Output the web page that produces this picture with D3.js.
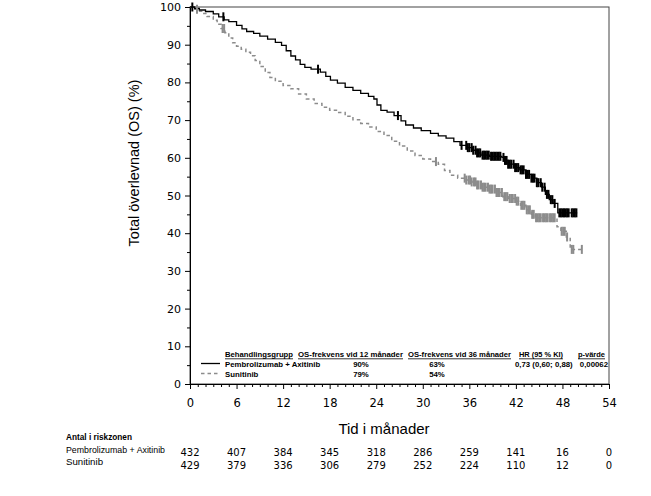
<!DOCTYPE html>
<html><head><meta charset="utf-8">
<script src="https://cdn.jsdelivr.net/npm/d3@7/dist/d3.min.js"></script>
<style>body{margin:0;background:#fff}</style>
</head><body>
<svg id="c" width="651" height="496"></svg>
<script>
// ---- data ----
const xTicks = [0, 6, 12, 18, 24, 30, 36, 42, 48, 54];
const yTicks = [0, 10, 20, 30, 40, 50, 60, 70, 80, 90, 100];
const seriesNames = ["Pembrolizumab + Axitinib", "Sunitinib"];
// step points [month, survival %]
const pembroSteps = [[0,100],[0.6,99.6],[1.2,99.2],[2,98.8],[3,98.2],[3.7,97.4],[4.4,96.6],[5,96.1],[6,95.1],[6.7,94.2],[7.3,93.5],[8.2,93],[9,92.3],[10,91.5],[11,90.6],[11.8,89.8],[12.4,88.4],[13,87],[13.6,86],[14.2,84.8],[14.8,84],[15.6,83.5],[16.8,82.7],[17.5,81.6],[18.1,80.6],[19,79.8],[20,78.7],[21,77.9],[22,77.1],[23,76.3],[23.7,75.6],[24.1,74],[24.6,72.6],[25.4,72.1],[26.3,71.2],[27.2,69.8],[27.8,68.7],[28.8,67.9],[29.8,67.2],[31,66.5],[32,65.8],[33,65.2],[34,64.3],[34.8,63.3],[35.7,62.7],[36.4,62],[37,61.3],[37.5,60.7],[38.6,60.4],[40.2,60.1],[40.6,59.3],[41,58.3],[41.8,57.4],[42.5,56.8],[43.3,55.6],[44,54.6],[44.7,53.4],[45.3,52.2],[45.8,50.3],[46.3,48.9],[46.8,47.9],[47.4,45.4],[49.9,45.4]];
const sunitSteps = [[0,100],[0.5,99.4],[1,98.9],[1.6,98.3],[2.2,97.5],[3,96.5],[3.5,95.4],[4,94.3],[4.5,93.2],[5,91.8],[5.5,90.5],[6,89.6],[6.6,88.8],[7.2,88],[7.8,87.1],[8.4,85.8],[9,84.2],[9.7,82.6],[10.3,81.3],[11,80.3],[12,79.2],[13,78.3],[14,76.9],[15,75.6],[16,74.4],[17,73.4],[18,72.6],[19,72],[20,71],[21,70.1],[22,69.1],[23,68.2],[24,67],[25,65.9],[26,64.4],[27,63.1],[28,61.8],[29,60.6],[30,59.7],[31,59],[32,58.3],[32.8,56.6],[33.5,55.4],[34.5,54.6],[35.5,54.1],[36.3,53.6],[37,52.8],[37.6,52.2],[38.5,51.7],[39.5,50.8],[40.3,49.7],[41,49.2],[42,48.5],[42.6,47.4],[43.3,46.2],[44,45],[44.5,44.1],[47.3,41.7],[47.8,40.5],[48.5,39],[49,35.7],[50.6,35.7]];
const pembroCensor = [0.3,4.3,16.5,26.8,35.0,35.6,35.8,36.0,36.3,36.5,36.8,37.0,37.2,37.4,37.7,37.9,38.1,38.3,38.5,38.8,39.0,39.2,39.4,39.6,39.8,40.0,40.4,40.6,40.8,41.0,41.2,41.4,41.7,41.9,42.1,42.3,42.6,42.8,43.0,43.3,43.5,43.7,44.0,44.2,44.4,44.7,44.9,45.2,45.4,45.7,46.0,46.2,46.5,46.7,47.0,47.6,47.8,48.0,48.2,48.4,48.6,48.8,49.2,49.4,49.6,49.8];
const sunitCensor = [0.9,4.2,4.4,31.7,35.4,35.6,35.9,36.1,36.3,36.6,36.8,37.0,37.2,37.5,37.7,37.9,38.1,38.4,38.6,38.8,39.0,39.3,39.5,39.7,39.9,40.2,40.5,40.7,40.9,41.2,41.4,41.6,41.9,42.1,42.3,42.7,42.9,43.1,43.4,43.6,43.8,44.1,44.3,44.6,44.8,45.0,45.2,45.5,45.7,45.9,46.1,46.4,46.6,46.8,47.0,47.9,48.1,48.3,48.6,49.2,49.4,50.5];
const legendHeaders = ["Behandlingsgrupp", "OS-frekvens vid 12 månader", "OS-frekvens vid 36 månader", "HR (95 % KI)", "p-värde"];
const os12 = ["90%", "79%"];
const os36 = ["63%", "54%"];
const hrText = ["0,73 (0,60; 0,88)", ""];
const pText = ["0,00062", ""];
const riskTitle = "Antal i riskzonen";
const riskPembro = [432, 407, 384, 345, 318, 286, 259, 141, 16, 0];
const riskSunit = [429, 379, 336, 306, 279, 252, 224, 110, 12, 0];

// ---- drawing ----
const svg = d3.select("#c");
const x = d3.scaleLinear().domain([0, 54]).range([190, 609]);
const y = d3.scaleLinear().domain([0, 100]).range([384, 7]);
const SANS = "'Liberation Sans', Arial, sans-serif";
const DV = "'DejaVu Sans', sans-serif";

// frame
svg.append("rect").attr("x", x(0)).attr("y", y(100)).attr("width", x(54) - x(0)).attr("height", y(0) - y(100))
  .attr("fill", "none").attr("stroke", "#444").attr("stroke-width", 1);

// y axis
const yAxis = svg.append("g").attr("transform", `translate(${x(0)},0)`)
  .call(d3.axisLeft(y).tickValues(yTicks).tickSize(5).tickPadding(4).tickFormat(d3.format("d")));
svg.append("g").attr("transform", `translate(${x(0)},0)`)
  .call(d3.axisLeft(y).tickValues(d3.range(5, 100, 10)).tickSize(3).tickFormat(""))
  .call(g => g.select(".domain").remove());
yAxis.selectAll("text").attr("font-family", DV).attr("font-size", 11).attr("fill", "#000");

// x axis
const xAxis = svg.append("g").attr("transform", `translate(0,${y(0)})`)
  .call(d3.axisBottom(x).tickValues(xTicks).tickSize(5).tickPadding(10).tickFormat(d3.format("d")));
svg.append("g").attr("transform", `translate(0,${y(0)})`)
  .call(d3.axisBottom(x).tickValues(d3.range(0, 55, 1).filter(d => d % 6 !== 0)).tickSize(3).tickFormat(""))
  .call(g => g.select(".domain").remove());
xAxis.selectAll("text").attr("font-family", DV).attr("font-size", 11.5).attr("fill", "#000");
svg.selectAll(".domain").attr("stroke", "#000");
svg.selectAll(".tick line").attr("stroke", "#000");

// axis titles
svg.append("text").attr("transform", `translate(139,163) rotate(-90)`).attr("text-anchor", "middle")
  .attr("font-family", SANS).attr("font-size", 14.5).text("Total överlevnad (OS) (%)");
svg.append("text").attr("x", 384).attr("y", 434).attr("text-anchor", "middle")
  .attr("font-family", SANS).attr("font-size", 15).text("Tid i månader");

// curves
const line = d3.line().x(d => x(d[0])).y(d => y(d[1])).curve(d3.curveStepAfter);
svg.append("path").datum(sunitSteps).attr("d", line).attr("fill", "none")
  .attr("stroke", "#8c8c8c").attr("stroke-width", 1.5).attr("stroke-dasharray", "3.5,3");
svg.append("path").datum(pembroSteps).attr("d", line).attr("fill", "none")
  .attr("stroke", "#000").attr("stroke-width", 1.3);

function survAt(steps, t) {
  let v = steps[0][1];
  for (const s of steps) { if (s[0] <= t) v = s[1]; else break; }
  return v;
}
function censors(times, steps, color, w) {
  svg.append("g").selectAll("line").data(times).join("line")
    .attr("x1", d => x(d)).attr("x2", d => x(d))
    .attr("y1", d => y(survAt(steps, d)) - 4.5).attr("y2", d => y(survAt(steps, d)) + 4.5)
    .attr("stroke", color).attr("stroke-width", w);
}
censors(sunitCensor, sunitSteps, "#8c8c8c", 2);
censors(pembroCensor, pembroSteps, "#000", 2);

// legend
const lg = svg.append("g").attr("font-family", SANS).attr("font-weight", "bold").attr("font-size", 7.8);
const hdrX = [225, 298, 408, 519, 578];
const hdrW = [68, 105, 103, 44, 27];
legendHeaders.forEach((h, i) => {
  lg.append("text").attr("x", hdrX[i]).attr("y", 356.5).attr("textLength", hdrW[i])
    .attr("lengthAdjust", "spacingAndGlyphs").text(h);
  lg.append("line").attr("x1", hdrX[i]).attr("x2", hdrX[i] + hdrW[i]).attr("y1", 358.8).attr("y2", 358.8)
    .attr("stroke", "#000").attr("stroke-width", 0.8);
});
const rowY = [366.5, 376.5];
const rowStroke = [["#000", null, 1.3], ["#8c8c8c", "3.5,3", 1.5]];
seriesNames.forEach((n, i) => {
  lg.append("line").attr("x1", 201).attr("x2", 220).attr("y1", rowY[i] - 3).attr("y2", rowY[i] - 3)
    .attr("stroke", rowStroke[i][0]).attr("stroke-dasharray", rowStroke[i][1]).attr("stroke-width", rowStroke[i][2]);
  lg.append("text").attr("x", 225).attr("y", rowY[i]).text(n);
  lg.append("text").attr("x", 361).attr("y", rowY[i]).attr("text-anchor", "middle").text(os12[i]);
  lg.append("text").attr("x", 437).attr("y", rowY[i]).attr("text-anchor", "middle").text(os36[i]);
  lg.append("text").attr("x", 515).attr("y", rowY[i]).text(hrText[i]);
  lg.append("text").attr("x", 608).attr("y", rowY[i]).attr("text-anchor", "end").text(pText[i]);
});

// risk table
svg.append("text").attr("x", 66).attr("y", 440).attr("font-family", SANS).attr("font-weight", "bold")
  .attr("font-size", 9.5).attr("textLength", 66).attr("lengthAdjust", "spacingAndGlyphs").text(riskTitle);
svg.append("text").attr("x", 66).attr("y", 453).attr("font-family", SANS).attr("font-size", 9.2)
  .attr("textLength", 99).attr("lengthAdjust", "spacingAndGlyphs").text(seriesNames[0]);
svg.append("text").attr("x", 66).attr("y", 464.5).attr("font-family", SANS).attr("font-size", 9.5)
  .attr("textLength", 37).attr("lengthAdjust", "spacingAndGlyphs").text(seriesNames[1]);
[[riskPembro, 456], [riskSunit, 469]].forEach(([vals, yy]) => {
  svg.append("g").selectAll("text").data(vals).join("text")
    .attr("x", (d, i) => x(xTicks[i])).attr("y", yy).attr("text-anchor", "middle")
    .attr("font-family", DV).attr("font-size", 10).text(d => d);
});
</script>
</body></html>
